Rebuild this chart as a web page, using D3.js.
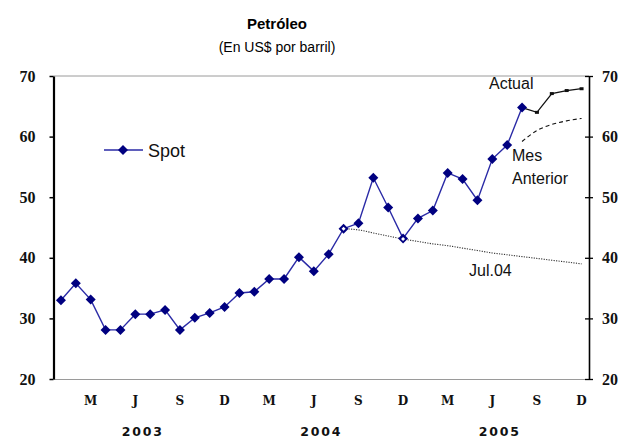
<!DOCTYPE html>
<html><head><meta charset="utf-8">
<script src="https://cdn.jsdelivr.net/npm/d3@7"></script>
<style>body{margin:0;background:#fff}svg{display:block}</style>
</head><body>
<svg id="c" width="619" height="438"></svg>
<script>
// ---- data ----
const years = ["2003", "2004", "2005"];
const monthKeys = ["01","02","03","04","05","06","07","08","09","10","11","12"];
const categories = [];
years.forEach(y => monthKeys.forEach(m => categories.push(y + "-" + m)));

// Spot (Jan 2003 - Aug 2005)
const spot = [33.0, 35.8, 33.1, 28.1, 28.1, 30.7, 30.7, 31.4, 28.1, 30.1, 30.9, 31.9,
              34.2, 34.4, 36.5, 36.5, 40.1, 37.8, 40.6, 44.8, 45.7, 53.2, 48.3, 43.2,
              46.5, 47.8, 54.0, 53.0, 49.5, 56.3, 58.6, 64.8];
// Futures curves: [categoryIndex, value]
const actualCurve = [[31, 64.8], [32, 64.0], [33, 67.1], [34, 67.6], [35, 67.9]];
const mesAnteriorCurve = [[31, 59.2], [32, 61.0], [33, 62.0], [34, 62.6], [35, 63.0]];
const jul04Curve = [[19, 44.8], [20, 44.6], [21, 44.1], [22, 43.6], [23, 43.1], [24, 42.7],
                    [25, 42.3], [26, 42.0], [27, 41.6], [28, 41.2], [29, 40.8], [30, 40.5],
                    [31, 40.2], [32, 39.9], [33, 39.6], [34, 39.3], [35, 39.0]];
const yTicks = [20, 30, 40, 50, 60, 70];
const monthTickIdx = [2, 5, 8, 11, 14, 17, 20, 23, 26, 29, 32, 35];
const monthTickLabels = ["M", "J", "S", "D", "M", "J", "S", "D", "M", "J", "S", "D"];
const title = "Petróleo";
const subtitle = "(En US$ por barril)";

// ---- chart ----
const svg = d3.select("#c");
const L = 53.5, R = 589, T = 76, B = 379;
const x = d3.scaleBand().domain(d3.range(categories.length)).range([L, R]);
const cx = i => x(i) + x.bandwidth() / 2;
const y = d3.scaleLinear().domain([20, 70]).range([B, T]);

// title
svg.append("text").attr("x", 277).attr("y", 29).attr("text-anchor", "middle")
  .attr("font-family", "Liberation Sans, Arial, sans-serif").attr("font-weight", "bold")
  .attr("font-size", 15).text(title);
svg.append("text").attr("x", 277).attr("y", 52).attr("text-anchor", "middle")
  .attr("font-family", "Liberation Sans, Arial, sans-serif")
  .attr("font-size", 14).text(subtitle);

// top border line
svg.append("line").attr("x1", L).attr("x2", R).attr("y1", y(70)).attr("y2", y(70))
  .attr("stroke", "#9a9a9a").attr("stroke-width", 1);

// bottom axis (grey line, month labels)
const xAxis = d3.axisBottom(x).tickValues(monthTickIdx).tickSize(0).tickPadding(17)
  .tickFormat(d => monthTickLabels[monthTickIdx.indexOf(d)]);
const gx = svg.append("g").attr("transform", `translate(0,${B})`).call(xAxis);
gx.select(".domain").attr("stroke", "#9a9a9a").attr("stroke-width", 1.2);
gx.selectAll("text").attr("font-family", "DejaVu Serif, serif").attr("font-weight", "bold")
  .attr("font-size", 12).attr("fill", "#111");

// year labels
years.forEach((yr, k) => {
  const a = cx(k * 12), b = cx(k * 12 + 11);
  svg.append("text").attr("x", (a + b) / 2).attr("y", 435.5).attr("text-anchor", "middle")
    .attr("font-family", "DejaVu Sans, sans-serif").attr("font-weight", "bold")
    .attr("font-size", 12.5).attr("letter-spacing", 1.8).attr("fill", "#111").text(yr);
});

// left axis
const gl = svg.append("g").attr("transform", `translate(${L},0)`)
  .call(d3.axisLeft(y).tickValues(yTicks).tickSize(4).tickPadding(14).tickSizeOuter(0));
gl.select(".domain").attr("stroke", "#000").attr("stroke-width", 2.2);
gl.selectAll(".tick line").attr("stroke", "#000").attr("stroke-width", 1.5);
gl.selectAll("text").attr("font-family", "Liberation Serif, Times New Roman, serif")
  .attr("font-weight", "bold").attr("font-size", 16).attr("fill", "#111");

// right axis
const gr = svg.append("g").attr("transform", `translate(${R},0)`)
  .call(d3.axisRight(y).tickValues(yTicks).tickSize(4).tickPadding(9).tickSizeOuter(0));
gr.select(".domain").attr("stroke", "#000").attr("stroke-width", 1.6);
gr.selectAll(".tick line").attr("x1", -4).attr("x2", 4).attr("stroke", "#000").attr("stroke-width", 1.3);
gr.selectAll("text").attr("font-family", "Liberation Serif, Times New Roman, serif")
  .attr("font-weight", "bold").attr("font-size", 16).attr("fill", "#111");

const lineP = d3.line().x(d => cx(d[0])).y(d => y(d[1]));
const lineCurve = d3.line().x(d => cx(d[0])).y(d => y(d[1])).curve(d3.curveMonotoneX);

// Spot line
const spotPts = spot.map((v, i) => [i, v]);
svg.append("path").attr("d", lineP(spotPts)).attr("fill", "none")
  .attr("stroke", "#2a2aa6").attr("stroke-width", 1.4);

// Jul.04 dotted
svg.append("path").attr("d", lineCurve(jul04Curve)).attr("fill", "none")
  .attr("stroke", "#333").attr("stroke-width", 1.1).attr("stroke-dasharray", "1.2,1.3");

// Mes anterior dashed
svg.append("path").attr("d", lineCurve(mesAnteriorCurve)).attr("fill", "none")
  .attr("stroke", "#111").attr("stroke-width", 1.1).attr("stroke-dasharray", "4,3");

// Actual line
svg.append("path").attr("d", lineP(actualCurve)).attr("fill", "none")
  .attr("stroke", "#111").attr("stroke-width", 1.3);
svg.selectAll(".am").data(actualCurve.slice(1)).enter().append("rect")
  .attr("x", d => cx(d[0]) - 2).attr("y", d => y(d[1]) - 1.5)
  .attr("width", 4).attr("height", 3).attr("fill", "#111");

// Spot markers
const diamond = d3.symbol().type(d3.symbolSquare).size(50);
svg.selectAll(".sm").data(spotPts).enter().append("path")
  .attr("d", diamond)
  .attr("transform", d => `translate(${cx(d[0])},${y(d[1])}) rotate(45)`)
  .attr("fill", "#000080");

// Jul.04 hollow markers (white, small)
svg.selectAll(".jm").data(jul04Curve.filter(d => d[0] === 19 || d[0] === 23)).enter().append("path")
  .attr("d", d3.symbol().type(d3.symbolSquare).size(8))
  .attr("transform", d => `translate(${cx(d[0])},${y(d[1])}) rotate(45)`)
  .attr("fill", "#fff");

// Labels
const lab = (t, xx, yy) => svg.append("text").attr("x", xx).attr("y", yy)
  .attr("font-family", "Liberation Sans, Arial, sans-serif").attr("font-size", 16)
  .attr("fill", "#111").text(t);
lab("Actual", 489, 89);
lab("Mes", 512, 161);
lab("Anterior", 512, 184);
lab("Jul.04", 469, 276);

// Legend
svg.append("line").attr("x1", 104).attr("x2", 143).attr("y1", 150).attr("y2", 150)
  .attr("stroke", "#2a2aa6").attr("stroke-width", 1.4);
svg.append("path").attr("d", diamond).attr("transform", "translate(123,150) rotate(45)")
  .attr("fill", "#000080");
svg.append("text").attr("x", 148).attr("y", 157)
  .attr("font-family", "Liberation Sans, Arial, sans-serif").attr("font-size", 18)
  .attr("fill", "#111").text("Spot");
</script>
</body></html>
